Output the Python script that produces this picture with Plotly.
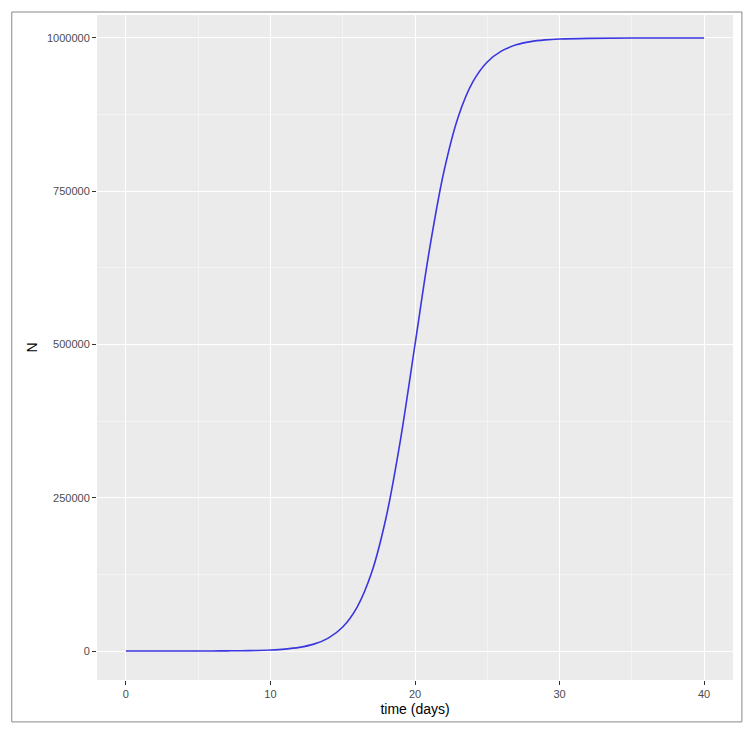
import plotly.graph_objects as go

# values
days = [0, 1, 2, 3, 4, 5, 6, 7, 8, 9, 10, 11, 12, 13, 14, 15, 16, 17, 18, 19, 20,
        21, 22, 23, 24, 25, 26, 27, 28, 29, 30, 32, 35, 40]
n_values = [3, 5, 10, 19, 36, 68, 128, 244, 462, 875, 1658, 3145, 5940, 11210,
            21060, 39200, 71740, 127900, 217800, 345300, 500000, 654700, 782200,
            872100, 928300, 960800, 978900, 988800, 994100, 996900, 998300,
            999400, 999900, 1000000]

fig = go.Figure(go.Scatter(x=days, y=n_values, mode="lines", line_shape="spline",
                           line=dict(color="#3a36e0", width=1.6)))

axis_common = dict(showline=False, zeroline=False, gridcolor="white", gridwidth=1.2,
                   ticks="outside", ticklen=4, tickcolor="#333",
                   tickfont=dict(size=11, color="#4d4d4d"),
                   minor=dict(showgrid=True, gridcolor="#f4f4f4", gridwidth=0.6))
fig.update_xaxes(range=[-2, 42], tickvals=[0, 10, 20, 30, 40],
                 minor_tickvals=[5, 15, 25, 35],
                 title=dict(text="time (days)", font=dict(size=14, color="black"), standoff=4),
                 **axis_common)
fig.update_yaxes(range=[-47300, 1037500], tickvals=[0, 250000, 500000, 750000, 1000000],
                 ticktext=["0", "250000", "500000", "750000", "1000000"],
                 minor_tickvals=[125000, 375000, 625000, 875000],
                 title=dict(text="N", font=dict(size=14, color="black"), standoff=6),
                 **axis_common)

fig.update_layout(width=754, height=732, plot_bgcolor="#ebebeb", paper_bgcolor="white",
                  font=dict(family="Liberation Sans, Arial"), showlegend=False,
                  margin=dict(l=89, r=29, t=7, b=60))
fig.add_shape(type="rect", xref="paper", yref="paper", x0=-0.134, x1=1.014,
              y0=-0.063, y1=1.0045, line=dict(color="#888", width=1))
fig.write_html("out.html")
